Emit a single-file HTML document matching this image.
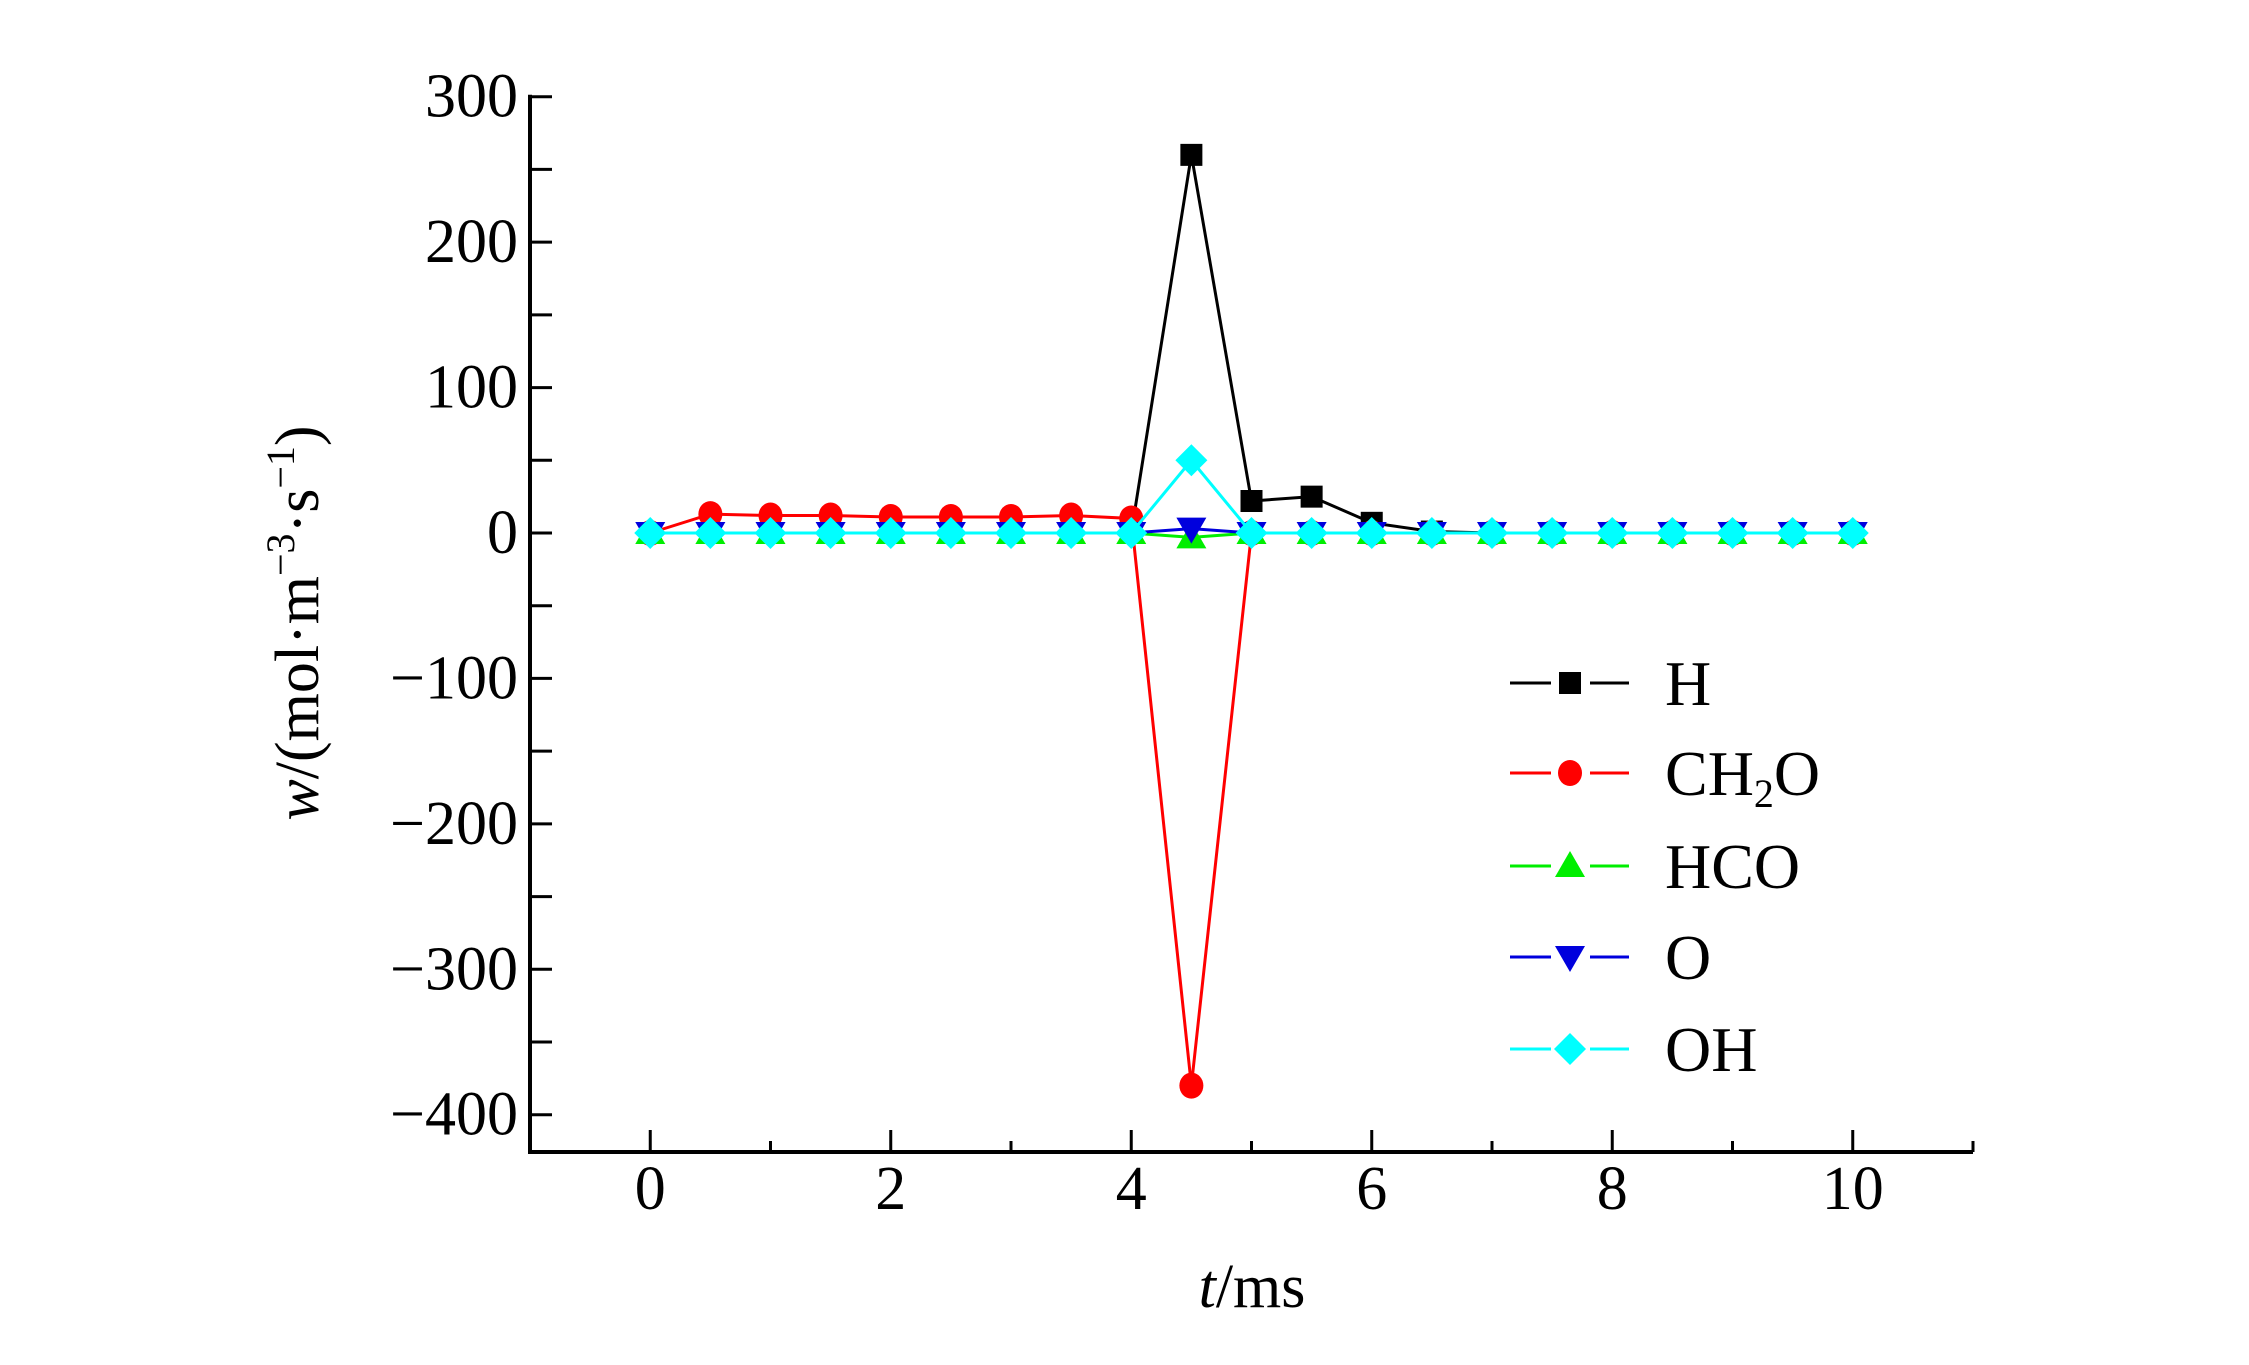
<!DOCTYPE html>
<html><head><meta charset="utf-8"><style>
html,body{margin:0;padding:0;background:#fff;}
svg{display:block;font-family:"Liberation Serif",serif;}
</style></head><body>
<svg id="chart" width="2249" height="1365" viewBox="0 0 2249 1365" xmlns="http://www.w3.org/2000/svg">
<g id="axes"></g>
<g id="series"></g>
<g id="legend"></g>
<text transform="translate(318,623) rotate(-90)" text-anchor="middle" font-size="62"><tspan font-style="italic">w</tspan>/(mol·m<tspan font-size="40" dy="-24">−3</tspan><tspan dy="24">·s</tspan><tspan font-size="40" dy="-24">−1</tspan><tspan dy="24">)</tspan></text>
<text x="1252" y="1307" text-anchor="middle" font-size="62"><tspan font-style="italic">t</tspan>/ms</text>
</svg>
<script>
const times = [0,0.5,1,1.5,2,2.5,3,3.5,4,4.5,5,5.5,6,6.5,7,7.5,8,8.5,9,9.5,10];
const seriesNames = ["H","CH2O","HCO","O","OH"];
const hVals =    [0,0,0,0,0,0,0,0,0,260,22,25,7,1,0,0,0,0,0,0,0];
const ch2oVals = [0,13,12,12,11,11,11,12,10,-380,0,0,0,0,0,0,0,0,0,0,0];
const hcoVals =  [0,0,0,0,0,0,0,0,0,-3,0,0,0,0,0,0,0,0,0,0,0];
const oVals =    [0,0,0,0,0,0,0,0,0,3,0,0,0,0,0,0,0,0,0,0,0];
const ohVals =   [0,0,0,0,0,0,0,0,0,50,0,0,0,0,0,0,0,0,0,0,0];
const xTicks = [0,2,4,6,8,10];
const yTicks = [300,200,100,0,-100,-200,-300,-400];

const NS="http://www.w3.org/2000/svg";
const X0=530,X1=1973,XMIN=-1,XMAX=11;
const Y0=96.7,Y1=533,VTOP=300,VZERO=0;
function sx(v){return X0+(v-XMIN)/(XMAX-XMIN)*(X1-X0);}
function sy(v){return Y1-(v-VZERO)/(VTOP-VZERO)*(Y1-Y0);}
const AXB=1152;
function mk(tag,attrs,parent){const e=document.createElementNS(NS,tag);for(const k in attrs)e.setAttribute(k,attrs[k]);parent.appendChild(e);return e;}
const axes=document.getElementById('axes');
let l=mk('line',{x1:X0,y1:Y0-2,x2:X0,y2:AXB,stroke:'#000','stroke-width':4},axes);


l=mk('line',{x1:X0-2,y1:AXB,x2:X1,y2:AXB,stroke:'#000','stroke-width':4},axes);


for(let v=-400;v<=300;v+=50){
  const t=mk('line',{x1:X0,y1:sy(v),x2:X0+22,y2:sy(v),stroke:'#000','stroke-width':3},axes);
  
  
}
yTicks.forEach(v=>{
  const t=mk('text',{x:X0-12,y:sy(v)+20,'text-anchor':'end','font-size':62},axes);
  t.textContent=(v<0?'\u2212':'')+Math.abs(v);
  
  
});
for(let v=0;v<=11;v+=1){
  const len=(v%2===0)?22:11;
  const t=mk('line',{x1:sx(v),y1:AXB,x2:sx(v),y2:AXB-len,stroke:'#000','stroke-width':3},axes);
  
  
}
l=mk('line',{x1:X1,y1:AXB,x2:X1,y2:AXB-11,stroke:'#000','stroke-width':3},axes);


xTicks.forEach(v=>{
  const t=mk('text',{x:sx(v),y:AXB+57,'text-anchor':'middle','font-size':62},axes);
  t.textContent=v;
  
  
});
const colors=['#000000','#ff0000','#00ee00','#0000dd','#00ffff'];
const allVals=[hVals,ch2oVals,hcoVals,oVals,ohVals];
const shapes=['square','circle','tri','itri','diamond'];
function marker(shape,x,y,c,parent){
  let e;
  if(shape==='square')e=mk('rect',{x:x-11,y:y-11,width:22,height:22,fill:c},parent);
  else if(shape==='circle')e=mk('ellipse',{cx:x,cy:y,rx:12,ry:13,fill:c},parent);
  else if(shape==='tri')e=mk('polygon',{points:`${x},${y-15} ${x+15},${y+11} ${x-15},${y+11}`,fill:c},parent);
  else if(shape==='itri')e=mk('polygon',{points:`${x},${y+15} ${x+15},${y-11} ${x-15},${y-11}`,fill:c},parent);
  else e=mk('polygon',{points:`${x},${y-16} ${x+16},${y} ${x},${y+16} ${x-16},${y}`,fill:c},parent);
  return e;
}
const sg=document.getElementById('series');
allVals.forEach((vals,i)=>{
  const g=mk('g',{},sg);
  
  
  const p=mk('polyline',{points:times.map((t,j)=>sx(t)+','+sy(vals[j])).join(' '),fill:'none',stroke:colors[i],'stroke-width':3},g);
  
  
  times.forEach((t,j)=>{
    const m=marker(shapes[i],sx(t),sy(vals[j]),colors[i],g);
    
    
  });
});
const lg=document.getElementById('legend');
const rowsY=[683,773,866,957,1049];
seriesNames.forEach((n,i)=>{
  const g=mk('g',{},lg);
  
  
  const y=rowsY[i];
  mk('line',{x1:1510,y1:y,x2:1551,y2:y,stroke:colors[i],'stroke-width':3},g);
  mk('line',{x1:1590,y1:y,x2:1629,y2:y,stroke:colors[i],'stroke-width':3},g);
  marker(shapes[i],1570,y,colors[i],g);
  const t=mk('text',{x:1665,y:y+22,'font-size':64},g);
  if(n==='CH2O'){t.innerHTML='CH<tspan font-size="40" dy="12">2</tspan><tspan dy="-12">O</tspan>';}
  else t.textContent=n;
});
</script>
</body></html>
